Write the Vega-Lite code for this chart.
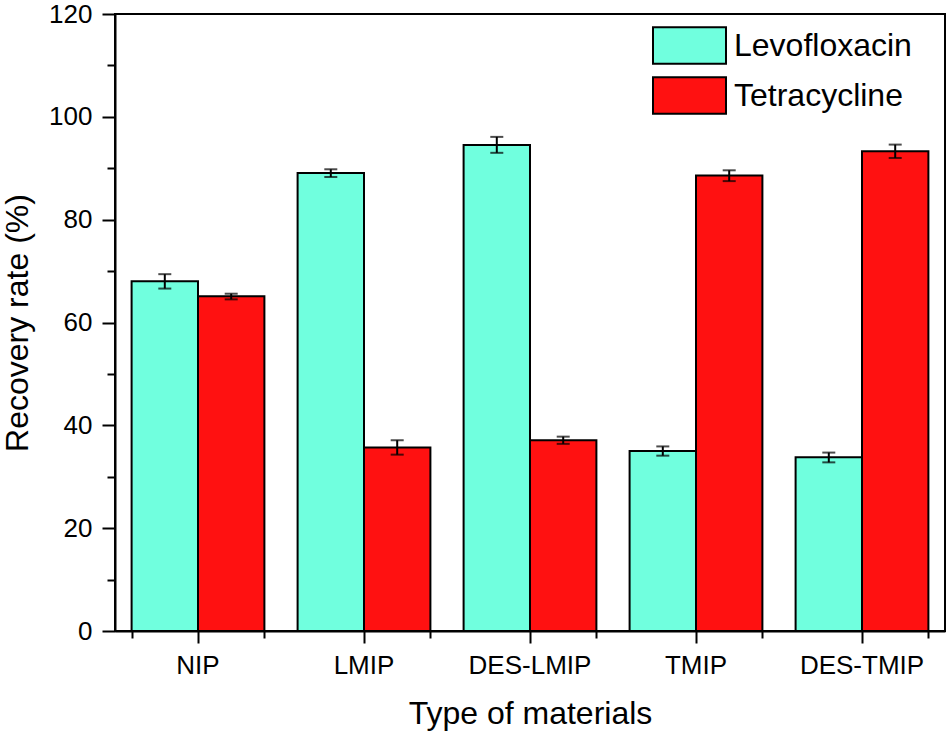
{
  "$schema": "https://vega.github.io/schema/vega-lite/v6.json",
  "autosize": {"type": "none"},
  "width": 830,
  "height": 617,
  "padding": {"left": 115, "top": 14, "right": 5, "bottom": 104},
  "background": "white",
  "config": {
    "font": "Liberation Sans",
    "view": {"stroke": "black", "strokeWidth": 2},
    "axis": {
      "domainColor": "black",
      "domainWidth": 2,
      "tickColor": "black",
      "tickWidth": 2,
      "labelColor": "black",
      "titleColor": "black",
      "labelFont": "Liberation Sans",
      "titleFont": "Liberation Sans",
      "labelFontSize": 26,
      "titleFontSize": 32,
      "titleFontWeight": "normal",
      "grid": false
    },
    "legend": {
      "orient": "none",
      "legendX": 555,
      "legendY": 12,
      "padding": 0,
      "symbolType": "M-2,-1H2V1H-2Z",
      "symbolSize": 1332,
      "symbolStrokeColor": "black",
      "symbolStrokeWidth": 2,
      "symbolOpacity": 1,
      "labelFont": "Liberation Sans",
      "labelFontSize": 32,
      "labelColor": "black",
      "labelOffset": 25,
      "labelLimit": 400,
      "rowPadding": 5,
      "title": null
    }
  },
  "data": {
    "values": [
      {"material": "NIP", "drug": "Levofloxacin", "value": 68.0, "low": 66.6, "high": 69.4},
      {"material": "NIP", "drug": "Tetracycline", "value": 65.1, "low": 64.5, "high": 65.6},
      {"material": "LMIP", "drug": "Levofloxacin", "value": 89.1, "low": 88.3, "high": 89.8},
      {"material": "LMIP", "drug": "Tetracycline", "value": 35.7, "low": 34.3, "high": 37.1},
      {"material": "DES-LMIP", "drug": "Levofloxacin", "value": 94.5, "low": 93.0, "high": 96.1},
      {"material": "DES-LMIP", "drug": "Tetracycline", "value": 37.1, "low": 36.4, "high": 37.8},
      {"material": "TMIP", "drug": "Levofloxacin", "value": 35.0, "low": 34.1, "high": 35.9},
      {"material": "TMIP", "drug": "Tetracycline", "value": 88.6, "low": 87.5, "high": 89.6},
      {"material": "DES-TMIP", "drug": "Levofloxacin", "value": 33.8, "low": 32.8, "high": 34.7},
      {"material": "DES-TMIP", "drug": "Tetracycline", "value": 93.3, "low": 92.0, "high": 94.6}
    ]
  },
  "layer": [
    {
      "mark": {"type": "bar", "stroke": "black", "strokeWidth": 2},
      "encoding": {
        "x": {
          "field": "material",
          "type": "nominal",
          "sort": ["NIP", "LMIP", "DES-LMIP", "TMIP", "DES-TMIP"],
          "scale": {"paddingInner": 0.2, "paddingOuter": 0.1},
          "axis": {
            "title": "Type of materials",
            "labelAngle": 0,
            "tickSize": 12,
            "labelPadding": 9,
            "titlePadding": 20
          }
        },
        "xOffset": {
          "field": "drug",
          "type": "nominal",
          "scale": {"paddingInner": 0, "paddingOuter": 0}
        },
        "y": {
          "field": "value",
          "type": "quantitative",
          "scale": {"domain": [0, 120], "nice": false},
          "axis": {
            "title": "Recovery rate (%)",
            "values": [0, 10, 20, 30, 40, 50, 60, 70, 80, 90, 100, 110, 120],
            "labelExpr": "datum.value % 20 === 0 ? datum.label : ''",
            "tickSize": {"condition": {"test": "datum.value % 20 === 0", "value": 13}, "value": 8},
            "labelPadding": 10,
            "titlePadding": 14
          }
        },
        "color": {
          "field": "drug",
          "type": "nominal",
          "scale": {"domain": ["Levofloxacin", "Tetracycline"], "range": ["#70FFDE", "#FF1111"]}
        }
      }
    },
    {
      "mark": {"type": "rule", "color": "black", "strokeWidth": 2},
      "encoding": {
        "x": {
          "field": "material",
          "type": "nominal",
          "sort": ["NIP", "LMIP", "DES-LMIP", "TMIP", "DES-TMIP"],
          "axis": {
            "orient": "bottom",
            "tickBand": "extent",
            "tickSize": 7,
            "labels": false,
            "domain": false,
            "title": null
          }
        },
        "xOffset": {"field": "drug", "type": "nominal"},
        "y": {"field": "low", "type": "quantitative", "axis": null},
        "y2": {"field": "high"}
      }
    },
    {
      "mark": {"type": "tick", "color": "black", "size": 13, "thickness": 2},
      "encoding": {
        "x": {"field": "material", "type": "nominal", "sort": ["NIP", "LMIP", "DES-LMIP", "TMIP", "DES-TMIP"], "axis": null},
        "xOffset": {"field": "drug", "type": "nominal"},
        "y": {"field": "low", "type": "quantitative", "axis": null}
      }
    },
    {
      "mark": {"type": "tick", "color": "black", "size": 13, "thickness": 2},
      "encoding": {
        "x": {"field": "material", "type": "nominal", "sort": ["NIP", "LMIP", "DES-LMIP", "TMIP", "DES-TMIP"], "axis": null},
        "xOffset": {"field": "drug", "type": "nominal"},
        "y": {"field": "high", "type": "quantitative", "axis": null}
      }
    }
  ],
  "resolve": {"axis": {"x": "independent", "y": "independent"}}
}
